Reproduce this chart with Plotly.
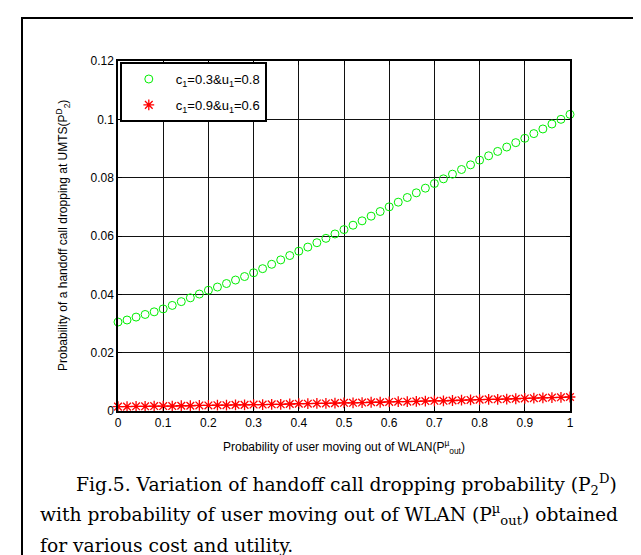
import plotly.graph_objects as go

# ---- data ----
x_vals = [0.00, 0.02, 0.04, 0.06, 0.08, 0.10, 0.12, 0.14, 0.16, 0.18,
          0.20, 0.22, 0.24, 0.26, 0.28, 0.30, 0.32, 0.34, 0.36, 0.38,
          0.40, 0.42, 0.44, 0.46, 0.48, 0.50, 0.52, 0.54, 0.56, 0.58,
          0.60, 0.62, 0.64, 0.66, 0.68, 0.70, 0.72, 0.74, 0.76, 0.78,
          0.80, 0.82, 0.84, 0.86, 0.88, 0.90, 0.92, 0.94, 0.96, 0.98, 1.00]

green_vals = [0.0305, 0.0312, 0.0322, 0.0331, 0.0340, 0.0350, 0.0362, 0.0375, 0.0388, 0.0401,
              0.0414, 0.0425, 0.0437, 0.0449, 0.0461, 0.0474, 0.0488, 0.0503, 0.0518, 0.0533,
              0.0548, 0.0562, 0.0577, 0.0592, 0.0607, 0.0622, 0.0637, 0.0652, 0.0668, 0.0684,
              0.0700, 0.0716, 0.0732, 0.0748, 0.0764, 0.0780, 0.0796, 0.0812, 0.0828, 0.0844,
              0.0860, 0.0875, 0.0890, 0.0905, 0.0920, 0.0935, 0.0951, 0.0967, 0.0984, 0.1000, 0.1017]

red_vals = [0.0015, 0.0015, 0.0016, 0.0016, 0.0017, 0.0017, 0.0017, 0.0018, 0.0018, 0.0019,
            0.0019, 0.0020, 0.0020, 0.0021, 0.0021, 0.0022, 0.0022, 0.0023, 0.0023, 0.0024,
            0.0025, 0.0025, 0.0026, 0.0026, 0.0027, 0.0028, 0.0028, 0.0029, 0.0030, 0.0030,
            0.0031, 0.0032, 0.0032, 0.0033, 0.0034, 0.0035, 0.0035, 0.0036, 0.0037, 0.0038,
            0.0039, 0.0040, 0.0040, 0.0041, 0.0042, 0.0043, 0.0044, 0.0045, 0.0046, 0.0047, 0.0048]

series_names = ["c<sub>1</sub>=0.3&u<sub>1</sub>=0.8", "c<sub>1</sub>=0.9&u<sub>1</sub>=0.6"]

x_tickvals = [0, 0.1, 0.2, 0.3, 0.4, 0.5, 0.6, 0.7, 0.8, 0.9, 1.0]
x_ticktext = ["0", "0.1", "0.2", "0.3", "0.4", "0.5", "0.6", "0.7", "0.8", "0.9", "1"]
y_tickvals = [0, 0.02, 0.04, 0.06, 0.08, 0.10, 0.12]
y_ticktext = ["0", "0.02", "0.04", "0.06", "0.08", "0.1", "0.12"]

x_title = "Probability of user moving out of WLAN(P<sup>\u00b5</sup><sub>out</sub>)"
y_title = "Probability of a handoff call dropping at UMTS(P<sup>D</sup><sub>2</sub>)"
caption_lines = [
    "Fig.5. Variation of handoff call dropping probability (P<sub>2</sub><sup>D</sup>)",
    "with probability of user moving out of WLAN (P<sup>\u00b5</sup><sub>out</sub>) obtained",
    "for various cost and utility.",
]

# ---- layout geometry (pixels) ----
W, H = 641, 555
L, R, T, B = 110, 562, 53, 403
pw, ph = R - L, B - T


def px(xp):
    return (xp - L) / pw


def py(yp):
    return (B - yp) / ph


fig = go.Figure()

fig.add_trace(go.Scatter(
    x=x_vals, y=green_vals, mode="markers", name=series_names[0],
    legendgroup="g1",
    marker=dict(symbol="circle-open", size=8, color="#00ee00", line=dict(width=1, color="#00ee00")),
    cliponaxis=False,
))
fig.add_trace(go.Scatter(
    x=x_vals, y=red_vals, mode="lines", showlegend=False,
    line=dict(color="red", width=1), cliponaxis=False,
))
fig.add_trace(go.Scatter(
    x=x_vals, y=red_vals, mode="markers", name=series_names[1],
    legendgroup="g2",
    marker=dict(symbol="asterisk-open", size=9, color="red", line=dict(width=1.3, color="red")),
    cliponaxis=False,
))

axis_common = dict(
    showline=True, linecolor="black", linewidth=1.5, mirror="ticks",
    ticks="inside", ticklen=4, tickcolor="black",
    showgrid=True, gridcolor="#111111", gridwidth=1,
    zeroline=False,
    tickfont=dict(family="Liberation Sans, Arial", size=12, color="black"),
)

fig.update_xaxes(range=[0, 1], tickvals=x_tickvals, ticktext=x_ticktext, **axis_common)
fig.update_yaxes(range=[0, 0.12], tickvals=y_tickvals, ticktext=y_ticktext, **axis_common)

annotations = [
    dict(text=x_title, xref="paper", yref="paper", x=0.5, y=py(439), xanchor="center", yanchor="middle",
         showarrow=False, font=dict(family="Liberation Sans, Arial", size=12, color="black")),
    dict(text=y_title, xref="paper", yref="paper", x=px(55), y=0.5, xanchor="center", yanchor="middle",
         textangle=-90, showarrow=False, font=dict(family="Liberation Sans, Arial", size=12, color="black")),
]
cap_font = dict(family="DejaVu Serif", size=18.7, color="black")
annotations.append(dict(text=caption_lines[0], xref="paper", yref="paper", x=px(66), y=py(476),
                        xanchor="left", yanchor="middle", showarrow=False, font=cap_font))
annotations.append(dict(text=caption_lines[1], xref="paper", yref="paper", x=px(30), y=py(506),
                        xanchor="left", yanchor="middle", showarrow=False, font=cap_font))
annotations.append(dict(text=caption_lines[2], xref="paper", yref="paper", x=px(30), y=py(537),
                        xanchor="left", yanchor="middle", showarrow=False, font=cap_font))

shapes = [
    dict(type="rect", xref="paper", yref="paper", x0=px(14), x1=px(638), y0=py(580), y1=py(10),
         line=dict(color="black", width=2), layer="below"),
]

fig.update_layout(
    width=W, height=H,
    margin=dict(l=L, r=W - R, t=T, b=H - B),
    paper_bgcolor="white", plot_bgcolor="white",
    showlegend=True,
    legend=dict(x=0.004, y=0.997, xanchor="left", yanchor="top",
                bgcolor="white", bordercolor="black", borderwidth=2,
                font=dict(family="Liberation Sans, Arial", size=13, color="black"),
                itemwidth=44, traceorder="grouped", tracegroupgap=6),
    annotations=annotations,
    shapes=shapes,
)

fig.write_html("out.html")
